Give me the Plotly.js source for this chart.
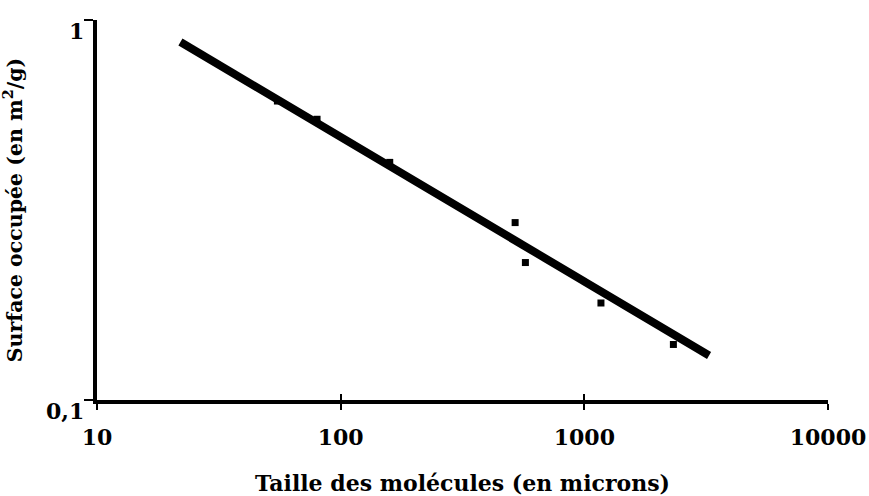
<!DOCTYPE html>
<html>
<head>
<meta charset="utf-8">
<script src="https://cdn.plot.ly/plotly-3.0.1.min.js"></script>
<style>html,body{margin:0;padding:0;background:#fff;}#chart{width:869px;height:496px;}</style>
</head>
<body>
<div id="chart"></div>
<script>
// Measured points: molecule size (microns) vs occupied surface (m2/g)
const tailles = [55, 80, 159, 520, 573, 1170, 2320];
const surfaces = [0.612, 0.548, 0.422, 0.293, 0.230, 0.180, 0.140];
// Fitted power-law line (end points)
const fitX = [22, 3250];
const fitY = [0.875, 0.131];
// Tick labels
const xTickVals = [10, 100, 1000, 10000];
const xTickText = ["10", "100", "1000", "10000"];
const yTickVals = [0.1, 1];
const yTickText = ["0,1", "1"];

const FAM = "DejaVu Serif, Liberation Serif, serif";
const tickFont = {family: FAM, size: 22, color: "#000", weight: "bold"};

const traces = [
  {x: fitX, y: fitY, type: "scatter", mode: "lines", xaxis: "x", yaxis: "y",
   line: {color: "#000", width: 8}, hoverinfo: "skip", showlegend: false},
  {x: tailles, y: surfaces, type: "scatter", mode: "markers", xaxis: "x2", yaxis: "y",
   marker: {symbol: "square", size: 7, color: "#000"}, showlegend: false}
];

// y tick labels placed through the y axis (log scale -> log10 position)
const yLabelAnnotations = yTickVals.map((v, i) => ({
  x: 0, xref: "paper", y: Math.log10(v), yref: "y",
  text: "<b>" + yTickText[i] + "</b>", showarrow: false,
  xanchor: "right", yanchor: "middle", xshift: -11, yshift: -11,
  font: tickFont
}));

const layout = {
  width: 869, height: 496,
  margin: {l: 97, r: 41, t: 20, b: 96},
  paper_bgcolor: "#fff", plot_bgcolor: "#fff",
  font: {family: FAM, color: "#000"},
  showlegend: false,
  xaxis: {
    type: "log", range: [1, 4],
    showgrid: false, zeroline: false,
    showline: true, linecolor: "#000", linewidth: 4,
    ticks: "outside", ticklen: 6, tickwidth: 2, tickcolor: "#000",
    tickvals: xTickVals, ticktext: xTickText,
    tickfont: tickFont,
    ticklabelstandoff: 9,
    title: {text: "<b>Taille des molécules (en microns)</b>", standoff: 27,
            font: {family: FAM, size: 22, color: "#000"}}
  },
  xaxis2: {
    type: "log", range: [1, 4], overlaying: "x", anchor: "y", side: "bottom",
    showgrid: false, zeroline: false, showline: false,
    ticks: "inside", ticklen: 6, tickwidth: 2, tickcolor: "#000",
    tickvals: [100, 1000, 10000], showticklabels: false
  },
  yaxis: {
    type: "log", range: [-1, 0],
    showgrid: false, zeroline: false,
    showline: true, linecolor: "#000", linewidth: 4,
    ticks: "outside", ticklen: 9, tickwidth: 2, tickcolor: "#000",
    tickvals: yTickVals, showticklabels: false,
    title: {text: "<b>Surface occupée (en m<sup>2</sup>/g)</b>", standoff: 57,
            font: {family: FAM, size: 20.5, color: "#000"}}
  },
  annotations: yLabelAnnotations
};

Plotly.newPlot("chart", traces, layout, {staticPlot: true, displayModeBar: false});
</script>
</body>
</html>
